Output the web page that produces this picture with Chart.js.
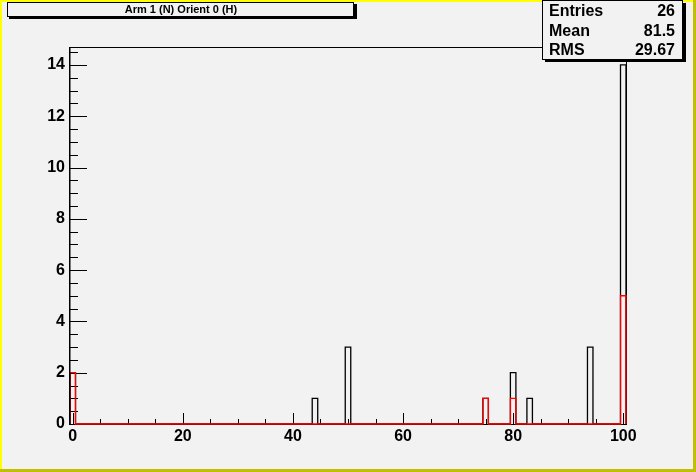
<html>
<head>
<meta charset="utf-8">
<title>Arm 1 (N) Orient 0 (H)</title>
<style>body{margin:0;background:#f2f2f2;overflow:hidden}</style>
<script src="https://cdn.jsdelivr.net/npm/chart.js@4/dist/chart.umd.min.js"></script>
</head>
<body>
<canvas id="ctx" width="696" height="472"></canvas>
<script>
// histogram: 101 bins of width 1, centred on 0..100
const histTitle = 'Arm 1 (N) Orient 0 (H)';
const xRange = [-0.5, 100.5];
const yMax = 14.7;
const allBins = [0, 44, 50, 75, 80, 83, 94, 100];
const allCounts = [2, 1, 3, 1, 2, 1, 3, 14];
const redBins = [0, 75, 80, 100];
const redCounts = [2, 1, 1, 5];
const xTicks = [0, 20, 40, 60, 80, 100];
const yTicks = [0, 2, 4, 6, 8, 10, 12, 14];
const statNames = ['Entries', 'Mean', 'RMS'];
const statValues = ['26', '81.5', '29.67'];

var FONT = "'Liberation Sans', Arial, sans-serif";
var BG = '#f2f2f2';

// turn bin contents into an outline (step) series
function stepData(bins, counts){
	var n = xRange[1] - xRange[0];
	var h = new Array(n).fill(0);
	bins.forEach(function(b, i){ h[b] = counts[i]; });
	var pts = [{x: xRange[0], y: 0}];
	for (var i = 0; i < n; i++) pts.push({x: xRange[0] + i, y: h[i]});
	pts.push({x: xRange[1], y: 0});
	return pts;
}

var rootLook = {
	id: 'rootLook',
	beforeDraw: function(chart){
		var c = chart.ctx, W = chart.width, H = chart.height;
		c.save();
		c.fillStyle = BG; c.fillRect(0, 0, W, H);
		// bevel border
		c.fillStyle = '#ffff00'; c.fillRect(0, 0, W, 2); c.fillRect(0, 0, 2, H);
		c.fillStyle = '#c0c000'; c.fillRect(0, H-3, W, 3); c.fillRect(W-3, 0, 3, H);
		c.restore();
	},
	beforeDatasetsDraw: function(chart){
		var c = chart.ctx, a = chart.chartArea;
		var xs = chart.scales.x, ys = chart.scales.y;
		c.save();
		c.strokeStyle = '#000'; c.lineWidth = 1;
		c.strokeRect(a.left - 0.5, a.top + 0.5, a.right - a.left + 1, a.bottom - a.top);
		c.beginPath();
		// x ticks, pointing up from the bottom
		for (var v = 0; v <= 100; v += 5) {
			var px = Math.round(xs.getPixelForValue(v)) + 0.5;
			var len = (v % 20 == 0) ? 11 : 5;
			c.moveTo(px, a.bottom); c.lineTo(px, a.bottom - len);
		}
		// y ticks, pointing right from the left
		for (var w = 0; w <= yMax; w += 0.5) {
			var py = Math.round(ys.getPixelForValue(w)) + 0.5;
			var l2 = (w % 2 == 0) ? 17 : 8;
			c.moveTo(a.left, py); c.lineTo(a.left + l2, py);
		}
		c.stroke();
		c.restore();
	},
	afterDatasetsDraw: function(chart){
		// left axis line goes over the histograms
		var c = chart.ctx, a = chart.chartArea;
		c.save();
		c.strokeStyle = '#000'; c.lineWidth = 1.5;
		c.beginPath(); c.moveTo(a.left - 0.25, a.top); c.lineTo(a.left - 0.25, a.bottom + 1); c.stroke();
		c.restore();
	},
	afterDraw: function(chart){
		var c = chart.ctx;
		c.save();
		// title box
		c.fillStyle = '#000';
		c.fillRect(9, 4, 348, 15);
		c.fillStyle = BG; c.fillRect(7, 2, 347, 15);
		c.strokeStyle = '#000'; c.lineWidth = 1;
		c.strokeRect(7.5, 2.5, 346, 14);
		c.fillStyle = '#000';
		c.font = 'bold 11px ' + FONT;
		c.textAlign = 'center'; c.textBaseline = 'middle';
		c.fillText(histTitle, 181, 10);
		// stats box
		c.fillRect(545, 3, 141, 59);
		c.fillStyle = BG; c.fillRect(542, 0, 141, 60);
		c.strokeRect(542.5, 0.5, 140, 59);
		c.fillStyle = '#000';
		c.font = 'bold 16px ' + FONT;
		c.textBaseline = 'alphabetic';
		for (var i = 0; i < statNames.length; i++) {
			var by = 16 + i * 19.5;
			c.textAlign = 'left'; c.fillText(statNames[i], 549, by);
			c.textAlign = 'right'; c.fillText(statValues[i], 675, by);
		}
		c.restore();
	}
};

var tickFont = {family: FONT, size: 16, weight: 'bold'};

new Chart(document.getElementById('ctx'), {
	type: 'scatter',
	data: {
		datasets: [
			{label: 'red', data: stepData(redBins, redCounts), showLine: true, stepped: true,
			 borderColor: '#ff0000', borderWidth: 1.3, pointRadius: 0, clip: false, order: 0},
			{label: 'all', data: stepData(allBins, allCounts), showLine: true, stepped: true,
			 borderColor: '#000000', borderWidth: 1.3, pointRadius: 0, clip: false, order: 1}
		]
	},
	options: {
		responsive: false,
		animation: false,
		events: [],
		layout: {padding: {top: 47, right: 70, left: 0, bottom: 0}},
		plugins: {legend: {display: false}, tooltip: {enabled: false}},
		scales: {
			x: {
				type: 'linear', min: xRange[0], max: xRange[1],
				afterBuildTicks: function(s){ s.ticks = xTicks.map(function(v){ return {value: v}; }); },
				afterFit: function(s){ s.height = 48; },
				grid: {display: false, drawTicks: false}, border: {display: false},
				ticks: {color: '#000', font: tickFont, padding: 3, maxRotation: 0, autoSkip: false}
			},
			y: {
				type: 'linear', min: 0, max: yMax,
				afterBuildTicks: function(s){ s.ticks = yTicks.map(function(v){ return {value: v}; }); },
				afterFit: function(s){ s.width = 70; },
				grid: {display: false, drawTicks: false}, border: {display: false},
				ticks: {color: '#000', font: tickFont, padding: 5}
			}
		}
	},
	plugins: [rootLook]
});
</script>
</body>
</html>
